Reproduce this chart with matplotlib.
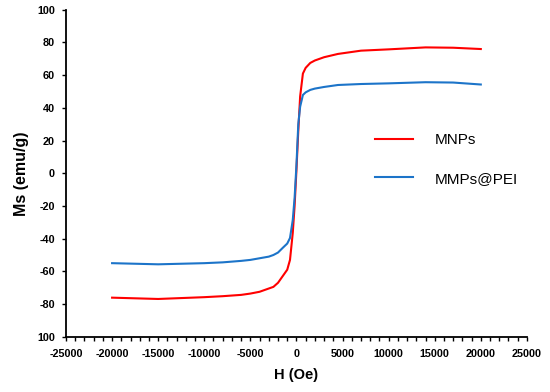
import matplotlib
matplotlib.use("Agg")
import matplotlib.pyplot as plt
from matplotlib.ticker import MultipleLocator

plt.rcParams["font.family"] = ["Liberation Sans", "DejaVu Sans"]

# campo aplicado (Oe)
H = [-20000, -15000, -10000, -8000, -6000, -5000, -4000, -3000, -2500, -2000,
     -1500, -1000, -700, -400, -200, 0, 200, 400, 700, 1000, 1500, 2000,
     3000, 4500, 7000, 10000, 14000, 17000, 20000]

# magnetizacao (emu/g)
ms_mnps = [-76.1, -76.9, -75.8, -75.2, -74.4, -73.6, -72.5, -70.5, -69.5, -67.0,
           -63.0, -59.0, -53.0, -36.5, -20.0, 2.0, 26.0, 47.0, 61.0, 64.5, 67.5, 69.0,
           71.0, 73.0, 75.0, 75.8, 77.0, 76.8, 76.0]
ms_pei = [-55.0, -55.7, -55.0, -54.5, -53.6, -53.0, -52.0, -51.0, -50.0, -48.5,
          -45.7, -43.0, -39.6, -28.6, -15.0, 5.0, 30.0, 40.7, 47.9, 49.5, 51.0, 51.8,
          52.8, 54.0, 54.6, 55.0, 55.7, 55.5, 54.3]

yticks = [-100, -80, -60, -40, -20, 0, 20, 40, 60, 80, 100]
ytick_labels = ["100", "-80", "-60", "-40", "-20", "0", "20", "40", "60", "80", "100"]
xticks = [-25000, -20000, -15000, -10000, -5000, 0, 5000, 10000, 15000, 20000, 25000]

fig = plt.figure(figsize=(5.5, 3.92), dpi=100)
ax = fig.add_axes([0.12, 0.141, 0.838, 0.834])

ax.plot(H, ms_mnps, color="#ff0000", lw=1.5, label="MNPs")
ax.plot(H, ms_pei, color="#1c74c9", lw=1.5, label="MMPs@PEI")

ax.set_xlim(-25000, 25000)
ax.set_ylim(-100, 100)
ax.set_xticks(xticks)
ax.set_xticklabels([str(v) for v in xticks], fontsize=7.8, fontweight="bold")
ax.xaxis.set_minor_locator(MultipleLocator(1000))
ax.set_yticks(yticks)
ax.set_yticklabels(ytick_labels, fontsize=7.8, fontweight="bold")

for s in ["top", "right"]:
    ax.spines[s].set_visible(False)
for s in ["left", "bottom"]:
    ax.spines[s].set_linewidth(1.3)

ax.tick_params(axis="y", direction="out", length=3, width=1, pad=5)
ax.tick_params(axis="x", which="both", direction="out", length=3, width=1, pad=6)

ax.set_xlabel("H (Oe)", fontsize=10.5, fontweight="bold", labelpad=6)
ax.set_ylabel("Ms (emu/g)", fontsize=11.5, fontweight="bold", labelpad=6)

ax.legend(loc="center left", bbox_to_anchor=(0.670, 0.542), frameon=False,
          fontsize=11, handlelength=2.5, handletextpad=1.4, labelspacing=1.6,
          borderpad=0, borderaxespad=0)

fig.savefig("out.png", dpi=100)
